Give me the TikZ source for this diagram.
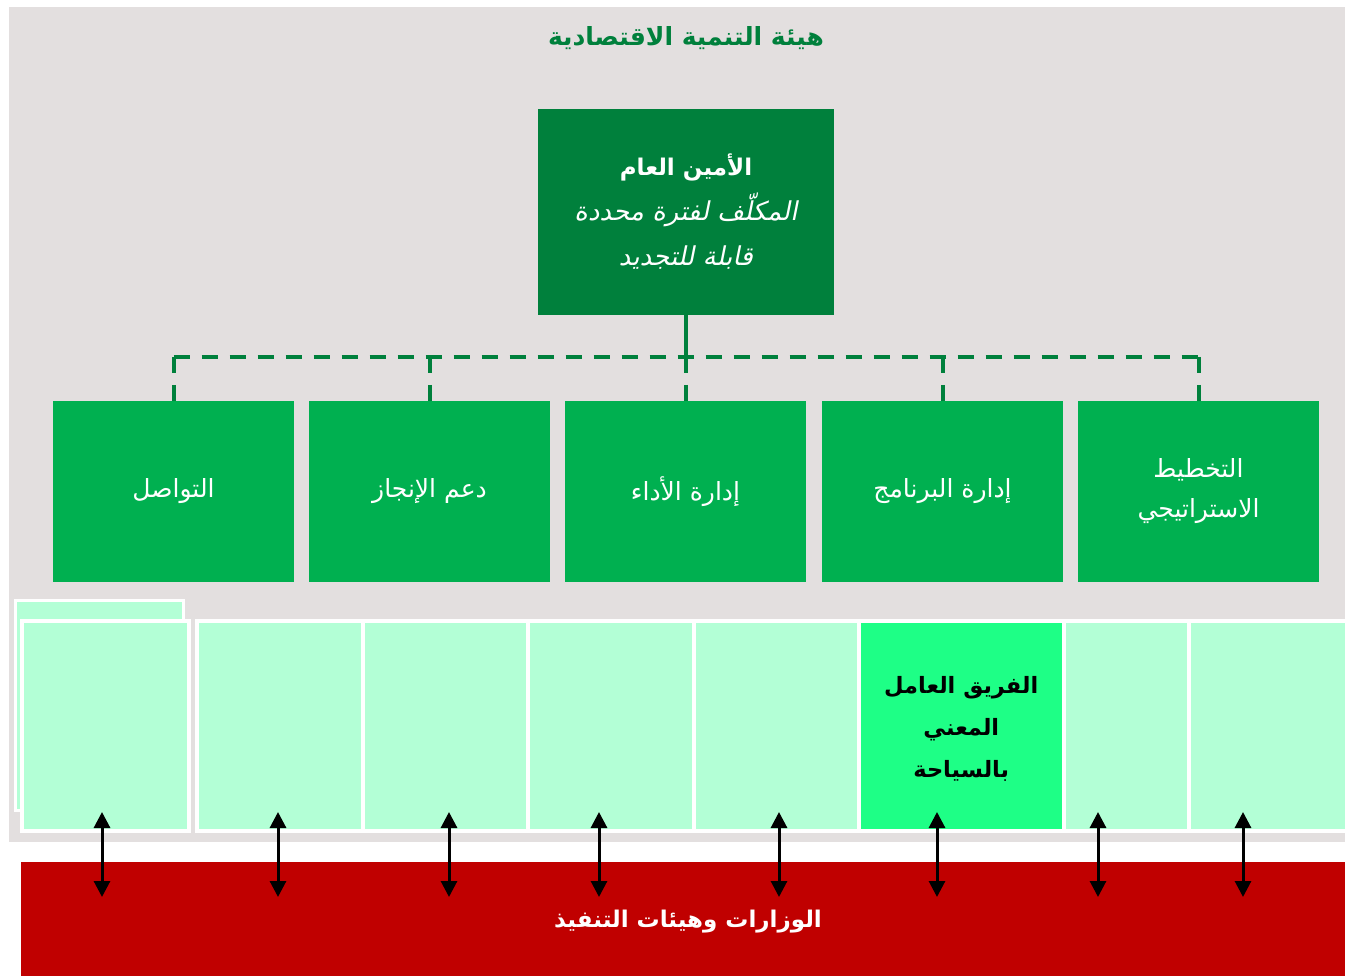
\documentclass[tikz,border=0pt]{standalone}
\usepackage{fontspec}
\usetikzlibrary{arrows.meta}
\TeXXeTstate=1
\newfontfamily\arabicfont[Script=Arabic]{DejaVu Sans}
\newfontfamily\arabicit[Script=Arabic,FakeSlant=0.2]{DejaVu Sans}
\newcommand\RL[1]{\beginR#1\endR}
\definecolor{bg}{RGB}{227,223,223}
\definecolor{dkgreen}{RGB}{0,128,60}
\definecolor{midgreen}{RGB}{0,176,80}
\definecolor{lightcell}{RGB}{179,255,214}
\definecolor{brightcell}{RGB}{30,255,134}
\definecolor{redband}{RGB}{192,0,0}
\tikzset{
  topbox/.style={rectangle, fill=dkgreen, inner sep=0, minimum width=296, minimum height=206, align=center, text=white, font=\arabicfont\fontsize{24}{45}\selectfont},
  unitbox/.style={rectangle, fill=midgreen, inner sep=0, minimum width=241, minimum height=181, align=center, text=white, font=\arabicfont\fontsize{25}{40}\selectfont},
  cellbox/.style={rectangle, draw=white, line width=4pt, fill=lightcell, inner sep=0, minimum height=210},
  dashline/.style={draw=dkgreen, line width=4pt, dash pattern=on 16pt off 12pt},
  solidline/.style={draw=dkgreen, line width=4pt},
  biarrow/.style={black, line width=3pt, {Triangle[width=16pt,length=16pt]}-{Triangle[width=16pt,length=16pt]}}
}
\begin{document}
\begin{tikzpicture}[x=1pt,y=-1pt]
\useasboundingbox (0,0) rectangle (1345,976);
\fill[bg] (9,7) rectangle (1345,842);
% title
\node[text=dkgreen, font=\arabicfont\bfseries\fontsize{25}{30}\selectfont] (title) at (686,38) {\RL{هيئة التنمية الاقتصادية}};
% secretary general
\node[topbox] (sg) at (686,212) {%
  {\bfseries\fontsize{23}{45}\selectfont\RL{الأمين العام}}\\
  {\arabicit\fontsize{26}{45}\selectfont\RL{المكلّف لفترة محددة}}\\
  {\arabicit\fontsize{26}{45}\selectfont\RL{قابلة للتجديد}}};
% units
\node[unitbox] (u1) at (173.5,491.5) {\RL{التواصل}};
\node[unitbox] (u2) at (429.5,491.5) {\RL{دعم الإنجاز}};
\node[unitbox] (u3) at (685.5,491.5) {\RL{إدارة الأداء}};
\node[unitbox] (u4) at (942.5,491.5) {\RL{إدارة البرنامج}};
\node[unitbox] (u5) at (1198.5,491.5) {\RL{التخطيط}\\\RL{الاستراتيجي}};
% connectors
\coordinate (bus) at (686,357);
\draw[solidline] (sg.south) -- (sg.south |- bus);
\draw[dashline] (u1.north |- bus) -- (u5.north |- bus);
\foreach \u in {u1,u2,u3,u4,u5}{\draw[dashline] (\u.north |- bus) -- (\u.north);}
% back cell
\node[cellbox, line width=3pt, minimum width=168] (c0) at (99,705) {};
% cells
\node[cellbox, minimum width=167] (c1) at (105.5,726) {};
\node[cellbox, minimum width=166] (c2) at (280,726) {};
\node[cellbox, minimum width=165] (c3) at (445.5,726) {};
\node[cellbox, minimum width=166] (c4) at (611,726) {};
\node[cellbox, minimum width=165] (c5) at (776.5,726) {};
\node[cellbox, fill=brightcell, minimum width=204.5] (c6) at (961.25,726) {};
\node[align=center, font=\arabicfont\bfseries\fontsize{22.5}{42}\selectfont] (c6label) at (961.25,729)
  {\RL{الفريق العامل}\\\RL{المعني}\\\RL{بالسياحة}};
\node[cellbox, minimum width=125.5] (c7) at (1126.25,726) {};
\node[cellbox, minimum width=171] (c8) at (1274.5,726) {};
% red band
\node[rectangle, fill=redband, inner sep=0, minimum width=1324, minimum height=120] (exec) at (683,922) {};
\node[text=white, font=\arabicfont\bfseries\fontsize{23}{30}\selectfont] (execlabel) at (688,922) {\RL{الوزارات وهيئات التنفيذ}};
% arrows
\foreach \i/\x in {1/102,2/278,3/449,4/599,5/779,6/937,7/1098,8/1243}{
  \coordinate (t\i) at (\x,812);
  \coordinate (b\i) at (\x,897);
}
\foreach \i in {1,...,8}{\draw[biarrow] (t\i) -- (b\i);}
\end{tikzpicture}
\end{document}
